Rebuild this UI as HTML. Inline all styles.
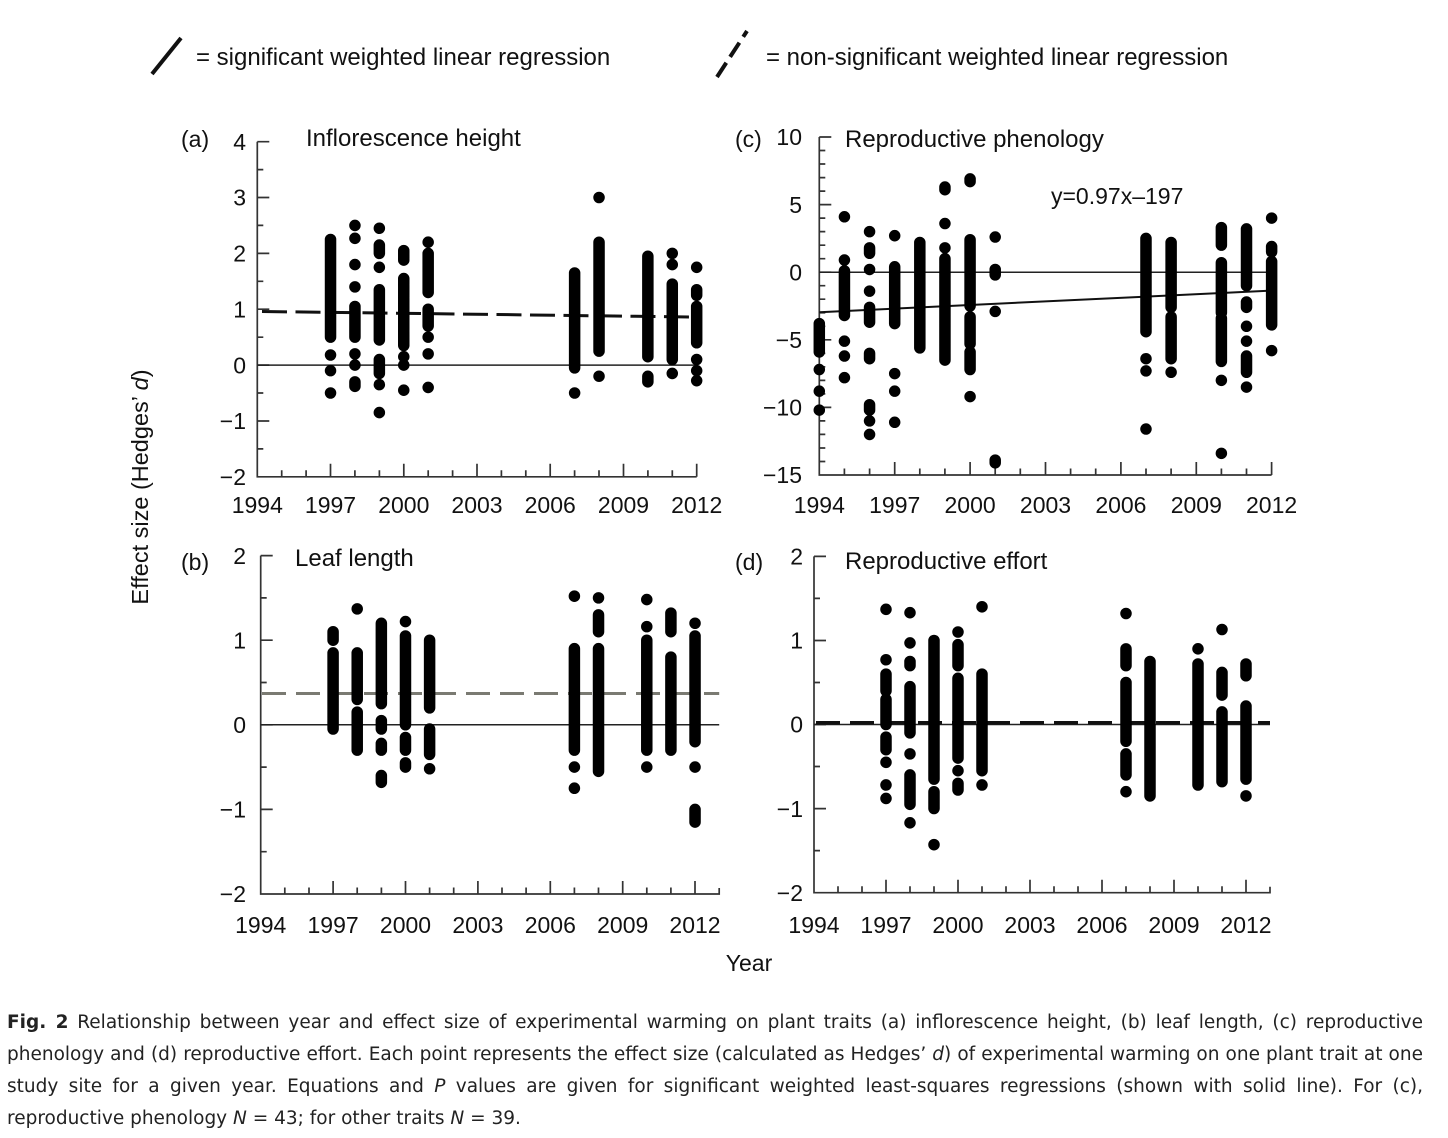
<!DOCTYPE html>
<html><head><meta charset="utf-8"><style>
html,body{margin:0;padding:0;background:#fff;}
body{width:1448px;height:1138px;position:relative;overflow:hidden;}
svg{position:absolute;left:0;top:0;}
.cap{position:absolute;left:7px;width:1416px;top:1007px;font-family:"DejaVu Sans","Liberation Sans",sans-serif;font-size:18.5px;line-height:32px;color:#222;}
.cap div{text-align:justify;text-align-last:justify;white-space:nowrap;}
.cap div.last{text-align-last:left;}
</style></head><body>
<svg width="1448" height="1138" viewBox="0 0 1448 1138" xmlns="http://www.w3.org/2000/svg" font-family="Liberation Sans, sans-serif" fill="#111">
<!-- legend -->
<line x1="152" y1="74" x2="181" y2="38" stroke="#111" stroke-width="4"/>
<text x="196" y="65" font-size="24">= significant weighted linear regression</text>
<line x1="717" y1="77" x2="747" y2="31" stroke="#111" stroke-width="4" stroke-dasharray="17 7"/>
<text x="766" y="65" font-size="24">= non-significant weighted linear regression</text>

<!-- y label -->
<text transform="translate(148,487) rotate(-90)" text-anchor="middle" font-size="23.5">Effect size (Hedges’ <tspan font-style="italic">d</tspan>)</text>
<text x="749" y="971" text-anchor="middle" font-size="23">Year</text>

<g font-size="23">
<text x="181" y="147">(a)</text>
<text x="735" y="147">(c)</text>
<text x="181" y="570">(b)</text>
<text x="735" y="570">(d)</text>
</g>
<g font-size="24">
<text x="306" y="146">Inflorescence height</text>
<text x="845" y="147">Reproductive phenology</text>
<text x="295" y="566">Leaf length</text>
<text x="845" y="569">Reproductive effort</text>
</g>
<text x="1051" y="204" font-size="23">y=0.97x–197</text>

<!-- axes -->
<g fill="none" stroke="#333" stroke-width="1.7">
<path d="M257.3 141.7V476.8H696.7"/>
<path d="M257.3 141.7h12M257.3 197.5h12M257.3 253.4h12M257.3 309.2h12M257.3 365.1h12M257.3 421h12M257.3 169.6h6M257.3 225.4h6M257.3 281.3h6M257.3 337.2h6M257.3 393h6M257.3 448.9h6"/>
<path d="M330.5 476.8v-13M403.8 476.8v-13M477 476.8v-13M550.2 476.8v-13M623.5 476.8v-13M696.7 476.8v-13M281.7 476.8v-6.5M306.1 476.8v-6.5M354.9 476.8v-6.5M379.4 476.8v-6.5M428.2 476.8v-6.5M452.6 476.8v-6.5M501.4 476.8v-6.5M525.8 476.8v-6.5M574.6 476.8v-6.5M599 476.8v-6.5M647.9 476.8v-6.5M672.3 476.8v-6.5"/>

<path d="M819.3 137V475H1271.6"/>
<path d="M819.3 137h12M819.3 204.6h12M819.3 272.2h12M819.3 339.8h12M819.3 407.4h12M819.3 150.5h6M819.3 164h6M819.3 177.6h6M819.3 191.1h6M819.3 218.1h6M819.3 231.6h6M819.3 245.2h6M819.3 258.7h6M819.3 285.7h6M819.3 299.2h6M819.3 312.8h6M819.3 326.3h6M819.3 353.3h6M819.3 366.8h6M819.3 380.4h6M819.3 393.9h6M819.3 420.9h6M819.3 434.4h6M819.3 448h6M819.3 461.5h6"/>
<path d="M894.7 475v-13M970.1 475v-13M1045.5 475v-13M1120.9 475v-13M1196.3 475v-13M1271.6 475v-13M844.4 475v-6.5M869.6 475v-6.5M919.8 475v-6.5M944.9 475v-6.5M995.2 475v-6.5M1020.3 475v-6.5M1070.6 475v-6.5M1095.7 475v-6.5M1146 475v-6.5M1171.1 475v-6.5M1221.4 475v-6.5M1246.5 475v-6.5"/>

<path d="M260.7 555.6V894H719.2v-6"/>
<path d="M260.7 555.6h12M260.7 640.2h12M260.7 724.8h12M260.7 809.4h12M260.7 597.9h6M260.7 682.5h6M260.7 767.1h6M260.7 851.7h6"/>
<path d="M333.1 894v-13M405.5 894v-13M477.9 894v-13M550.3 894v-13M622.7 894v-13M695 894v-13M284.8 894v-6.5M309 894v-6.5M357.2 894v-6.5M381.4 894v-6.5M429.6 894v-6.5M453.7 894v-6.5M502 894v-6.5M526.1 894v-6.5M574.4 894v-6.5M598.5 894v-6.5M646.8 894v-6.5M670.9 894v-6.5"/>

<path d="M814 556.4V892.7H1270v-6"/>
<path d="M814 556.4h12M814 640.5h12M814 724.5h12M814 808.6h12M814 598.4h6M814 682.5h6M814 766.5h6M814 850.6h6"/>
<path d="M886 892.7v-13M958 892.7v-13M1030 892.7v-13M1102 892.7v-13M1174 892.7v-13M1246 892.7v-13M838 892.7v-6.5M862 892.7v-6.5M910 892.7v-6.5M934 892.7v-6.5M982 892.7v-6.5M1006 892.7v-6.5M1054 892.7v-6.5M1078 892.7v-6.5M1126 892.7v-6.5M1150 892.7v-6.5M1198 892.7v-6.5M1222 892.7v-6.5"/>
</g>

<!-- tick labels -->
<g font-size="23" text-anchor="end">
<text x="246" y="149.9">4</text><text x="246" y="205.7">3</text><text x="246" y="261.6">2</text><text x="246" y="317.4">1</text><text x="246" y="373.3">0</text><text x="246" y="429.2">−1</text><text x="246" y="485">−2</text>
<text x="802" y="145.2">10</text><text x="802" y="212.8">5</text><text x="802" y="280.4">0</text><text x="802" y="348">−5</text><text x="802" y="415.6">−10</text><text x="802" y="483.2">−15</text>
<text x="246" y="563.8">2</text><text x="246" y="648.4">1</text><text x="246" y="733">0</text><text x="246" y="817.6">−1</text><text x="246" y="902.2">−2</text>
<text x="803" y="564.6">2</text><text x="803" y="648.7">1</text><text x="803" y="732.7">0</text><text x="803" y="816.8">−1</text><text x="803" y="900.9">−2</text>
</g>
<g font-size="23" text-anchor="middle">
<text x="257.3" y="513">1994</text><text x="330.5" y="513">1997</text><text x="403.8" y="513">2000</text><text x="477" y="513">2003</text><text x="550.2" y="513">2006</text><text x="623.5" y="513">2009</text><text x="696.7" y="513">2012</text>
<text x="819.3" y="513">1994</text><text x="894.7" y="513">1997</text><text x="970.1" y="513">2000</text><text x="1045.5" y="513">2003</text><text x="1120.9" y="513">2006</text><text x="1196.3" y="513">2009</text><text x="1271.6" y="513">2012</text>
<text x="260.7" y="933">1994</text><text x="333.1" y="933">1997</text><text x="405.5" y="933">2000</text><text x="477.9" y="933">2003</text><text x="550.3" y="933">2006</text><text x="622.7" y="933">2009</text><text x="695" y="933">2012</text>
<text x="814" y="933">1994</text><text x="886" y="933">1997</text><text x="958" y="933">2000</text><text x="1030" y="933">2003</text><text x="1102" y="933">2006</text><text x="1174" y="933">2009</text><text x="1246" y="933">2012</text>
</g>

<!-- zero lines and regressions -->
<g fill="none">
<path d="M257.3 365.1H696.7" stroke="#222" stroke-width="1.5"/>
<path d="M819.3 272.2H1271.6" stroke="#222" stroke-width="1.5"/>
<path d="M260.7 724.8H719.2" stroke="#222" stroke-width="1.5"/>
<path d="M814 724.5H1270" stroke="#222" stroke-width="1.5"/>
<path d="M262 311.5L698 317.1" stroke="#111" stroke-width="3" stroke-dasharray="25 8.5"/>
<path d="M819.3 312.2L1271.6 290.6" stroke="#111" stroke-width="2"/>
<path d="M262 693.5H719.2" stroke="#7a7a72" stroke-width="3" stroke-dasharray="24 10"/>
<path d="M816 722.8H1270" stroke="#111" stroke-width="3.5" stroke-dasharray="24 10"/>
</g>

<!-- data (a) -->
<g transform="matrix(24.41 0 0 -55.85 257.3 365.1)" fill="none" stroke="#000" stroke-linecap="round">
<path vector-effect="non-scaling-stroke" stroke-width="11.5" d="
M3 2.25V0.5M3 0.18v.001M3 -0.1v.001M3 -0.5v.001
M4 2.5v.001M4 2.27v.001M4 1.8v.001M4 1.4v.001M4 1.05V0.5M4 0.2v.001M4 0v.001M4 -0.3V-0.38
M5 2.45v.001M5 2.15V2.0M5 1.75v.001M5 1.35V0.45M5 0.1V-0.15M5 -0.35v.001M5 -0.85v.001
M6 2.05V1.88M6 1.55V0.35M6 0.15v.001M6 0v.001M6 -0.45v.001
M7 2.2v.001M7 2.0V1.3M7 1.0V0.7M7 0.5v.001M7 0.2v.001M7 -0.4v.001
M13 1.65V-0.05M13 -0.5v.001
M14 3.0v.001M14 2.2V0.25M14 -0.2v.001
M16 1.95V0.15M16 -0.2V-0.3
M17 2.0v.001M17 1.8v.001M17 1.45V0.1M17 -0.15v.001
M18 1.75v.001M18 1.35V1.25M18 1.05V0.4M18 0.1v.001M18 -0.1v.001M18 -0.28v.001"/>
</g>

<!-- data (c) -->
<g transform="matrix(25.13 0 0 -13.52 819.3 272.2)" fill="none" stroke="#000" stroke-linecap="round">
<path vector-effect="non-scaling-stroke" stroke-width="11.5" d="
M0 -3.8V-5.9M0 -7.2v.001M0 -8.8v.001M0 -10.2v.001
M1 4.1v.001M1 0.9v.001M1 0.1V-3.2M1 -5.1v.001M1 -6.2v.001M1 -7.8v.001
M2 3.0v.001M2 1.8V1.4M2 0.2v.001M2 -1.4v.001M2 -2.6V-3.7M2 -6.0V-6.4M2 -9.8V-10.2M2 -11.0v.001M2 -12.0v.001
M3 2.7v.001M3 0.4V-3.8M3 -7.5v.001M3 -8.8v.001M3 -11.1v.001
M4 2.2V-5.6
M5 6.3V6.1M5 3.6v.001M5 1.8v.001M5 1.0V-6.5
M6 6.9V6.7M6 2.4V-2.5M6 -3.3V-5.3M6 -5.9V-7.2M6 -9.2v.001
M7 2.6v.001M7 0.2V-0.2M7 -2.9v.001M7 -13.9V-14.1
M13 2.5V-4.4M13 -6.4v.001M13 -7.3v.001M13 -11.6v.001
M14 2.2V-2.6M14 -3.3V-6.4M14 -7.4v.001
M16 3.3V2.0M16 0.7V-3.0M16 -3.4V-6.6M16 -8.0v.001M16 -13.4v.001
M17 3.2V-1.0M17 -2.2V-2.6M17 -4.0v.001M17 -5.1v.001M17 -6.2V-7.4M17 -8.5v.001
M18 4.0v.001M18 1.9V1.5M18 0.8V-3.9M18 -5.8v.001"/>
</g>

<!-- data (b) -->
<g transform="matrix(24.13 0 0 -84.6 260.7 724.8)" fill="none" stroke="#000" stroke-linecap="round">
<path vector-effect="non-scaling-stroke" stroke-width="11.5" d="
M3 1.1V1.0M3 0.85V-0.05
M4 1.37v.001M4 0.85V0.3M4 0.15V-0.3
M5 1.2V0.25M5 0.05V-0.05M5 -0.22V-0.3M5 -0.6V-0.68
M6 1.22v.001M6 1.05V0M6 -0.15V-0.3M6 -0.45V-0.5
M7 1.0V0.2M7 -0.05V-0.35M7 -0.52v.001
M13 1.52v.001M13 0.9V-0.3M13 -0.5v.001M13 -0.75v.001
M14 1.5v.001M14 1.3V1.1M14 0.9V-0.55
M16 1.48v.001M16 1.16v.001M16 1.0V-0.3M16 -0.5v.001
M17 1.32V1.1M17 0.8V-0.3
M18 1.2v.001M18 1.05V-0.2M18 -0.5v.001M18 -1.0V-1.15"/>
</g>

<!-- data (d) -->
<g transform="matrix(24 0 0 -84.05 814 724.5)" fill="none" stroke="#000" stroke-linecap="round">
<path vector-effect="non-scaling-stroke" stroke-width="11.5" d="
M3 1.37v.001M3 0.77v.001M3 0.6V0.4M3 0.3V0M3 -0.15V-0.3M3 -0.45v.001M3 -0.72v.001M3 -0.88v.001
M4 1.33v.001M4 0.97v.001M4 0.75V0.7M4 0.45V-0.1M4 -0.35v.001M4 -0.6V-0.95M4 -1.17v.001
M5 1.0V-0.65M5 -0.8V-1.0M5 -1.43v.001
M6 1.1v.001M6 0.95V0.7M6 0.55V-0.4M6 -0.55v.001M6 -0.7V-0.78
M7 1.4v.001M7 0.6V-0.55M7 -0.72v.001
M13 1.32v.001M13 0.9V0.7M13 0.5V-0.2M13 -0.35V-0.6M13 -0.8v.001
M14 0.75V-0.85
M16 0.9v.001M16 0.72V-0.72
M17 1.13v.001M17 0.62V0.35M17 0.15V-0.68
M18 0.72V0.58M18 0.22V-0.65M18 -0.85v.001"/>
</g>
</svg>

<div class="cap">
<div><b>Fig. 2</b> Relationship between year and effect size of experimental warming on plant traits (a) inflorescence height, (b) leaf length, (c) reproductive</div>
<div>phenology and (d) reproductive effort. Each point represents the effect size (calculated as Hedges’ <i>d</i>) of experimental warming on one plant trait at one</div>
<div>study site for a given year. Equations and <i>P</i> values are given for significant weighted least-squares regressions (shown with solid line). For (c),</div>
<div class="last">reproductive phenology <i>N</i> = 43; for other traits <i>N</i> = 39.</div>
</div>
</body></html>
